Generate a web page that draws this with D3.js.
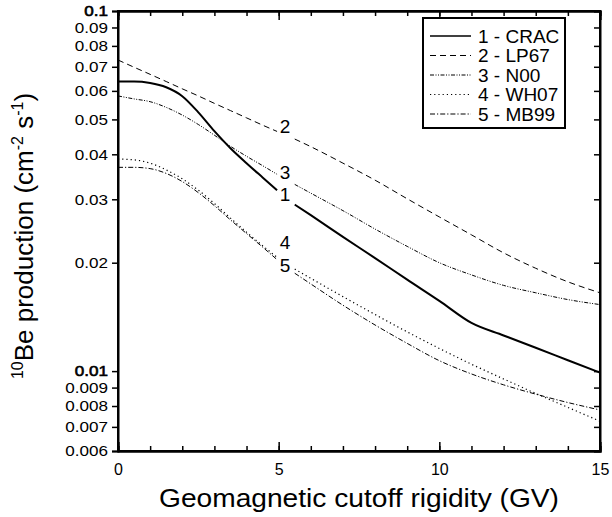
<!DOCTYPE html>
<html><head><meta charset="utf-8">
<script src="https://cdn.jsdelivr.net/npm/d3@7"></script>
<style>body{margin:0;background:#fff} svg{display:block} text{font-family:Arial,"Liberation Sans",sans-serif;fill:#000}</style>
</head><body><svg id="c" width="612" height="517"></svg>
<script>
// ---- data ----
const rigidity = [0,0.5,1,1.5,2,2.5,3,3.5,4,4.5,4.95,5.2,5.5,6,7,8,9,10,11,12,13,14,15];
// null = gap left for the curve label
const crac = [0.0637,0.0637,0.0631,0.0614,0.0580,0.0523,0.0464,0.0416,0.0378,0.0345,0.0318,null,0.0290,0.0271,0.0236,0.0206,0.01795,0.01567,0.01361,0.01256,0.01161,0.01072,0.0099];
const lp67 = [0.0731,0.0698,0.0667,0.0637,0.0608,0.0581,0.0554,0.0529,0.0505,0.0482,0.0463,null,0.0441,0.0420,0.0378,0.0339,0.0301,0.0268,0.0239,0.0213,0.0193,0.0177,0.0165];
const n00  = [0.0581,0.0570,0.0560,0.0540,0.0514,0.0484,0.0452,0.0421,0.0395,0.0372,0.0352,null,0.0330,0.0312,0.0279,0.0248,0.0222,0.0200,0.0185,0.0173,0.0165,0.0158,0.0153];
const wh07 = [0.0388,0.0386,0.0378,0.0362,0.0342,0.0318,0.0292,0.0266,0.0243,0.0223,0.0207,null,0.0192,0.0181,0.0161,0.01436,0.01285,0.01156,0.01045,0.00951,0.00867,0.00793,0.00726];
const mb99 = [0.0368,0.0368,0.0365,0.0354,0.0336,0.0313,0.0288,0.0263,0.0241,0.0221,0.0204,null,0.0187,0.01746,0.01524,0.01343,0.01194,0.01069,0.00982,0.00916,0.00863,0.00818,0.00780];
const seriesNames = ["1 - CRAC","2 - LP67","3 - N00","4 - WH07","5 - MB99"];
const curveLabels = ["1","2","3","4","5"];
const labelAt = [[5.2,0.0310],[5.2,0.0478],[5.2,0.0357],[5.2,0.0228],[5.2,0.0197]];
const xMajor = [0,5,10,15];
const xMinor = d3.range(0,16,1);
const yTicks = [0.1,0.09,0.08,0.07,0.06,0.05,0.04,0.03,0.02,0.01,0.009,0.008,0.007,0.006];
const yTickLabels = ["0.1","0.09","0.08","0.07","0.06","0.05","0.04","0.03","0.02","0.01","0.009","0.008","0.007","0.006"];

// ---- styles ----
const styles = [
  {w:2, dash:null},
  {w:1, dash:"6,4"},
  {w:1, dash:"4,1.5,1,1.5,1,1.5"},
  {w:1.2, dash:"1.2,3"},
  {w:1, dash:"5,2,1.2,2"}
];

const L=118,R=600,T=11,B=451;
const svg=d3.select("#c");
const x=d3.scaleLinear().domain([0,15]).range([L,R]);
const y=d3.scaleLog().domain([0.006,0.1]).range([B,T]);

const allSeries=[crac,lp67,n00,wh07,mb99];
const line=d3.line().defined(d=>d[1]!=null).x(d=>x(d[0])).y(d=>y(d[1])).curve(d3.curveMonotoneX);
allSeries.forEach((s,i)=>{
  svg.append("path").datum(rigidity.map((r,j)=>[r,s[j]]))
    .attr("d",line).attr("fill","none").attr("stroke","#000")
    .attr("stroke-width",styles[i].w).attr("stroke-dasharray",styles[i].dash);
});

// curve labels
labelAt.forEach((p,i)=>{
  svg.append("text").attr("x",x(p[0])).attr("y",y(p[1])).attr("dy","0.35em")
    .attr("text-anchor","middle").attr("font-size",19).text(curveLabels[i]);
});

// axes
const ax=svg.append("g");
ax.append("g").attr("transform",`translate(0,${B})`)
  .call(d3.axisBottom(x).tickValues(xMinor).tickSize(-5).tickFormat(""));
ax.append("g").attr("transform",`translate(0,${B})`)
  .call(d3.axisBottom(x).tickValues(xMajor).tickSize(-9).tickPadding(13).tickFormat(d3.format("d")));
ax.append("g").attr("transform",`translate(0,${T})`)
  .call(d3.axisTop(x).tickValues(xMinor).tickSize(-5).tickFormat(""));
ax.append("g").attr("transform",`translate(0,${T})`)
  .call(d3.axisTop(x).tickValues(xMajor).tickSize(-9).tickFormat(""));
const yAx=ax.append("g").attr("transform",`translate(${L},0)`)
  .call(d3.axisLeft(y).tickValues(yTicks).tickSize(6).tickPadding(4).tickFormat((d,i)=>yTickLabels[i]));
ax.append("g").attr("transform",`translate(${R},0)`)
  .call(d3.axisRight(y).tickValues(yTicks).tickSize(-6).tickFormat(""));
ax.selectAll(".domain").attr("stroke","#000").attr("stroke-width",2);
ax.selectAll(".tick line").attr("stroke","#000").attr("stroke-width",1.5);
ax.selectAll(".tick text").attr("font-size",16).attr("font-family","Arial, 'Liberation Sans', sans-serif").attr("fill","#000");
// y tick labels: slightly wide glyphs as in the reference
yAx.selectAll(".tick text").attr("font-size",15).attr("x",-10/1.14).attr("transform","scale(1.14,1)");
yAx.selectAll(".tick text").filter(function(){return this.textContent==="0.1"||this.textContent==="0.01";})
  .attr("stroke","#000").attr("stroke-width",0.6);
// frame
svg.append("rect").attr("x",L).attr("y",T).attr("width",R-L).attr("height",B-T)
  .attr("fill","none").attr("stroke","#000").attr("stroke-width",2);

// axis titles
svg.append("text").attr("x",(L+R)/2 - 200).attr("y",507)
  .attr("font-size",26).attr("textLength",400).attr("lengthAdjust","spacingAndGlyphs")
  .text("Geomagnetic cutoff rigidity (GV)");
const yt=svg.append("text").attr("transform",`translate(33,236) rotate(-90)`)
  .attr("text-anchor","middle").attr("font-size",26);
yt.append("tspan").attr("font-size",16).attr("dy",-10).text("10");
yt.append("tspan").attr("dy",10).text("Be production (cm");
yt.append("tspan").attr("font-size",16).attr("dy",-10).text("-2");
yt.append("tspan").attr("dy",10).text(" s");
yt.append("tspan").attr("font-size",16).attr("dy",-10).text("-1");
yt.append("tspan").attr("dy",10).text(")");

// legend
const lg=svg.append("g").attr("transform","translate(423,18)");
lg.append("rect").attr("width",142).attr("height",110).attr("fill","#fff").attr("stroke","#000").attr("stroke-width",2);
seriesNames.forEach((n,i)=>{
  const yy=18+i*19.5;
  lg.append("line").attr("x1",7).attr("x2",48).attr("y1",yy).attr("y2",yy)
    .attr("stroke","#000").attr("stroke-width",styles[i].w===2?1.6:1).attr("stroke-dasharray",styles[i].dash);
  lg.append("text").attr("x",55).attr("y",yy).attr("dy","0.35em").attr("font-size",19).text(n);
});
</script></body></html>
